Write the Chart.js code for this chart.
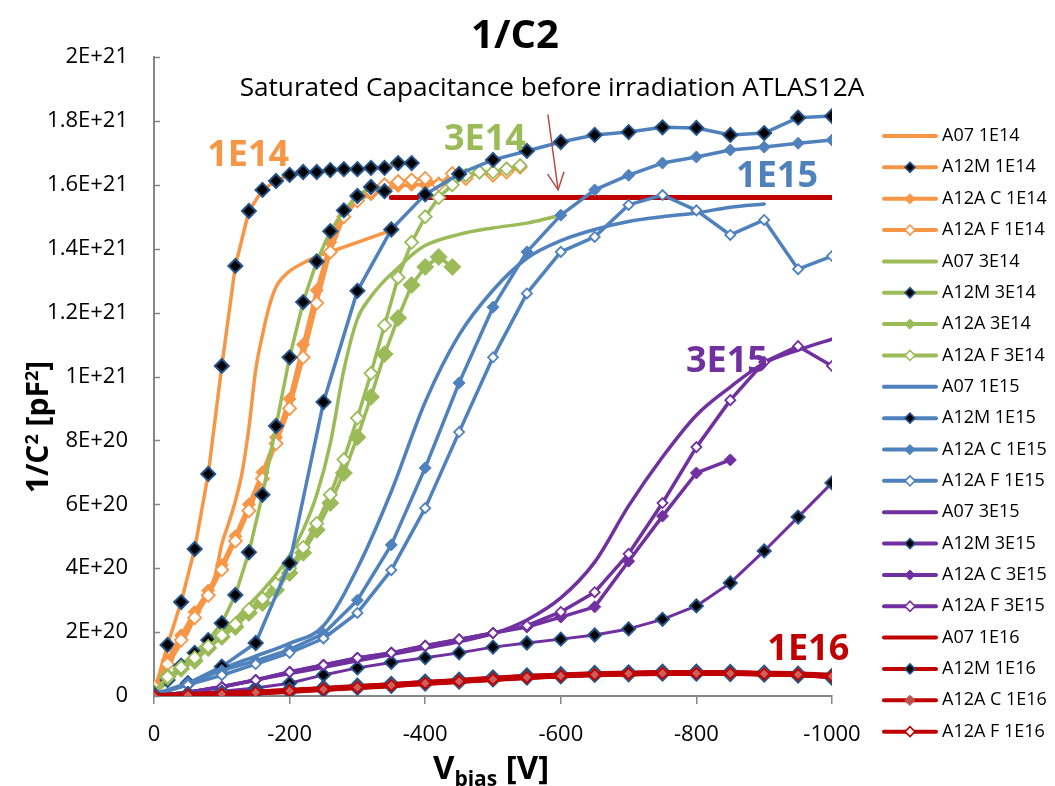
<!DOCTYPE html>
<html><head><meta charset="utf-8">
<script src="https://cdn.jsdelivr.net/npm/chart.js@4.4.1/dist/chart.umd.min.js"></script>
<style>html,body{margin:0;padding:0;background:#fff;}canvas{display:block;}</style>
</head><body>
<canvas id="c" width="1055" height="786"></canvas>
<script>
// ---- values: voltage [V], 1/C^2 in units of 1E20 pF^-2 ----
const vSat = [-350, -1000];
const ySat = [15.6, 15.6];

const vA07_1E14 = [0,-10,-20,-30,-40,-50,-60,-70,-80,-90,-100,-110,-120,-130,-140,-150,-160,-170,-180,-190,-200,-220,-240,-260,-280,-300,-320,-340,-350];
const yA07_1E14 = [0.1,0.45,0.85,1.3,1.65,2.0,2.45,2.85,3.25,3.75,4.75,5.4,6.1,7.0,8.4,10.2,11.3,12.2,12.8,13.1,13.3,13.55,13.75,13.9,14.05,14.2,14.35,14.5,14.55];
const vA12M_1E14 = [0,-20,-40,-60,-80,-100,-120,-140,-160,-180,-200,-220,-240,-260,-280,-300,-320,-340,-360,-380];
const yA12M_1E14 = [0.1,1.6,2.94,4.6,6.95,10.33,13.46,15.18,15.84,16.12,16.31,16.4,16.4,16.46,16.49,16.49,16.53,16.53,16.68,16.68];
const vA12AC_1E14 = [0,-20,-40,-60,-80,-100,-120,-140,-160,-180,-200,-220,-240,-260,-280,-300,-320,-340,-360,-380,-400,-420];
const yA12AC_1E14 = [0.3,1.13,1.9,2.63,3.3,4.1,5.0,6.0,7.0,8.1,9.3,11.0,12.7,14.2,15.2,15.5,15.7,15.85,15.96,16.0,16.0,16.05];
const vA12AF_1E14 = [0,-20,-40,-60,-80,-100,-120,-140,-160,-180,-200,-220,-240,-260,-280,-300,-320,-340,-360,-380,-400,-420,-440,-460,-480,-500,-520,-540];
const yA12AF_1E14 = [0.3,1.0,1.75,2.45,3.15,3.95,4.85,5.8,6.8,7.9,9.0,10.6,12.3,13.9,15.0,15.5,15.8,16.0,16.1,16.15,16.2,16.0,16.35,16.2,16.4,16.3,16.4,16.55];

const vA07_3E14 = [0,-20,-40,-60,-80,-100,-120,-140,-160,-180,-200,-220,-240,-260,-280,-300,-320,-340,-360,-380,-400,-450,-500,-550,-590];
const yA07_3E14 = [0.05,0.45,0.85,1.2,1.6,2.0,2.4,2.85,3.3,3.8,4.4,5.2,6.3,7.9,10.2,11.8,12.5,13.0,13.4,13.8,14.1,14.45,14.65,14.8,15.0];
const vA12M_3E14 = [0,-20,-40,-60,-80,-100,-120,-140,-160,-180,-200,-220,-240,-260,-280,-300,-320,-340];
const yA12M_3E14 = [0.05,0.5,0.95,1.35,1.75,2.28,3.16,4.5,6.3,8.45,10.6,12.33,13.6,14.55,15.2,15.65,15.93,15.8];
const vA12A_3E14 = [0,-20,-40,-60,-80,-100,-120,-140,-160,-180,-200,-220,-240,-260,-280,-300,-320,-340,-360,-380,-400,-420,-440];
const yA12A_3E14 = [0.1,0.6,0.85,1.1,1.5,1.85,2.16,2.6,2.91,3.32,3.85,4.48,5.2,6.04,6.98,8.1,9.36,10.7,11.83,12.86,13.43,13.74,13.43];
const vA12AF_3E14 = [0,-20,-40,-60,-80,-100,-120,-140,-160,-180,-200,-220,-240,-260,-280,-300,-320,-340,-360,-380,-400,-420,-440,-460,-480,-500,-520,-540];
const yA12AF_3E14 = [0.1,0.6,0.9,1.2,1.55,1.9,2.25,2.7,3.05,3.5,4.0,4.65,5.4,6.3,7.4,8.7,10.1,11.6,13.1,14.2,15.0,15.6,16.0,16.3,16.4,16.4,16.5,16.6];

const vA07_1E15 = [0,-50,-100,-150,-200,-250,-300,-350,-400,-450,-500,-550,-600,-650,-700,-750,-800,-850,-900];
const yA07_1E15 = [0,0.4,0.85,1.25,1.65,2.2,4.0,6.4,9.2,11.3,12.7,13.7,14.25,14.6,14.85,15.0,15.12,15.3,15.4];
const v50 = [0,-50,-100,-150,-200,-250,-300,-350,-400,-450,-500,-550,-600,-650,-700,-750,-800,-850,-900,-950,-1000];
const yA12M_1E15 = [0.05,0.4,0.92,1.66,4.16,9.2,12.68,14.6,15.7,16.34,16.78,17.06,17.34,17.56,17.65,17.8,17.78,17.56,17.62,18.1,18.15];
const yA12AC_1E15 = [0.02,0.4,0.8,1.1,1.45,1.95,3.0,4.73,7.14,9.8,12.17,13.9,15.05,15.84,16.3,16.68,16.87,17.09,17.18,17.3,17.4];
const yA12AF_1E15 = [0.02,0.35,0.65,1.0,1.35,1.8,2.6,3.94,5.88,8.26,10.6,12.6,13.9,14.37,15.37,15.68,15.2,14.43,14.9,13.36,13.77];

const yA07_3E15 = [0,0.12,0.3,0.5,0.7,0.9,1.1,1.3,1.5,1.7,1.95,2.38,3.07,4.19,5.95,7.48,8.79,9.67,10.42,10.83,11.17];
const yA12M_3E15 = [0,0.06,0.15,0.25,0.4,0.66,0.88,1.05,1.2,1.35,1.53,1.66,1.78,1.91,2.1,2.4,2.82,3.54,4.54,5.6,6.67];
const vA12AC_3E15 = [0,-50,-100,-150,-200,-250,-300,-350,-400,-450,-500,-550,-600,-650,-700,-750,-800,-850];
const yA12AC_3E15 = [0,0.12,0.28,0.5,0.75,0.97,1.19,1.35,1.57,1.77,1.97,2.16,2.47,2.79,4.22,5.63,6.98,7.39];
const yA12AF_3E15 = [0,0.12,0.28,0.5,0.75,0.97,1.19,1.35,1.57,1.77,1.97,2.2,2.63,3.25,4.45,6.04,7.79,9.26,10.45,10.95,10.33];

const yA07_1E16 = [0,0.03,0.07,0.11,0.16,0.22,0.28,0.34,0.41,0.47,0.54,0.6,0.64,0.68,0.7,0.72,0.72,0.72,0.7,0.68,0.63];
const yA12M_1E16 = [0,0.03,0.07,0.12,0.17,0.23,0.29,0.35,0.42,0.48,0.55,0.61,0.65,0.69,0.71,0.73,0.73,0.72,0.7,0.67,0.6];
const yA12AC_1E16 = [0,0.03,0.07,0.11,0.16,0.22,0.28,0.34,0.41,0.47,0.53,0.59,0.64,0.68,0.7,0.72,0.72,0.71,0.7,0.68,0.62];
const yA12AF_1E16 = [0,0.03,0.06,0.11,0.16,0.21,0.27,0.33,0.4,0.46,0.52,0.58,0.63,0.67,0.7,0.71,0.71,0.71,0.69,0.67,0.62];

const xTickLabels = ['0','-200','-400','-600','-800','-1000'];
const yTickLabels = ['0','2E+20','4E+20','6E+20','8E+20','1E+21','1.2E+21','1.4E+21','1.6E+21','1.8E+21','2E+21'];

const TITLE = '1/C2';
const SUBTITLE = 'Saturated Capacitance before irradiation ATLAS12A';
const noteText = ['1E14','3E14','1E15','3E15','1E16'];
const noteV = [-139,-488,-919,-845,-965];
const noteY = [16.9,17.4,16.25,10.45,1.44];
const arrowV = [-581,-596];
const arrowY = [18.2,15.84];

// ---- styling ----
const FONT = "'Open Sans', 'DejaVu Sans', sans-serif";
const ORANGE='#F79646', GREEN='#9BBB59', BLUE='#4F81BD', PURPLE='#7030A0', RED='#C00000';
const noteColors = [ORANGE, GREEN, BLUE, PURPLE, RED];
Chart.defaults.font.family = FONT;

function pts(v, y){ return v.map((x,i)=>({x:x, y:y[i]})); }
function mk(label, v, y, color, kind, o){
  o = o || {};
  const ds = {label, data: pts(v,y), showLine:true, borderColor:color, backgroundColor:color,
    borderWidth: o.bw || 3.5, borderCapStyle:'round', borderJoinStyle:'round',
    pointStyle:'rectRot', pointRadius:0, pointHoverRadius:0, legendHide: !!o.hide};
  if (kind === 'line') { ds.cubicInterpolationMode = 'monotone'; }
  else {
    const r = o.r || 6;
    ds.pointRadius = r; ds.pointHoverRadius = r;
    if (kind === 'M') { ds.pointBackgroundColor='#000'; ds.pointBorderColor='#24548A'; ds.pointBorderWidth=2; }
    else if (kind === 'C') { const pc = o.pc || color; ds.pointBackgroundColor=pc; ds.pointBorderColor=pc; ds.pointBorderWidth=1; }
    else { ds.pointBackgroundColor = o.pf || '#fff'; ds.pointBorderColor=color; ds.pointBorderWidth=1.8; ds.legendFill = '#fff'; }
  }
  return ds;
}

const datasets = [
  mk('Saturated', vSat, ySat, RED, 'line', {bw:5, hide:true}),
  mk('A07 1E14', vA07_1E14, yA07_1E14, ORANGE, 'line'),
  mk('A12M 1E14', vA12M_1E14, yA12M_1E14, ORANGE, 'M', {r:7}),
  mk('A12A C 1E14', vA12AC_1E14, yA12AC_1E14, ORANGE, 'C', {r:6.5}),
  mk('A12A F 1E14', vA12AF_1E14, yA12AF_1E14, ORANGE, 'F', {r:6.5}),
  mk('A07 3E14', vA07_3E14, yA07_3E14, GREEN, 'line'),
  mk('A12M 3E14', vA12M_3E14, yA12M_3E14, GREEN, 'M', {r:7}),
  mk('A12A 3E14', vA12A_3E14, yA12A_3E14, GREEN, 'C', {r:8.5}),
  mk('A12A F 3E14', vA12AF_3E14, yA12AF_3E14, GREEN, 'F', {r:6.5}),
  mk('A07 1E15', vA07_1E15, yA07_1E15, BLUE, 'line'),
  mk('A12M 1E15', v50, yA12M_1E15, BLUE, 'M', {r:7}),
  mk('A12A C 1E15', v50, yA12AC_1E15, BLUE, 'C', {r:6}),
  mk('A12A F 1E15', v50, yA12AF_1E15, BLUE, 'F', {r:5}),
  mk('A07 3E15', v50, yA07_3E15, PURPLE, 'line'),
  mk('A12M 3E15', v50, yA12M_3E15, PURPLE, 'M', {r:6.5, bw:3}),
  mk('A12A C 3E15', vA12AC_3E15, yA12AC_3E15, PURPLE, 'C', {r:6}),
  mk('A12A F 3E15', v50, yA12AF_3E15, PURPLE, 'F', {r:5}),
  mk('A07 1E16', v50, yA07_1E16, RED, 'line', {bw:6}),
  mk('A12M 1E16', v50, yA12M_1E16, RED, 'M', {r:8, bw:5}),
  mk('A12A C 1E16', v50, yA12AC_1E16, RED, 'C', {r:6.5, pc:'#C0504D', bw:5}),
  mk('A12A F 1E16', v50, yA12AF_1E16, RED, 'F', {r:5.5, bw:5, pf:'#CF5F5B'})
];
datasets.forEach((d,i)=>{ d.order = -i; });

function fitFont(ctx, text, weight, size, target){
  ctx.font = `${weight} ${size}px ${FONT}`;
  const w = ctx.measureText(text).width;
  const s = size * target / w;
  ctx.font = `${weight} ${s}px ${FONT}`;
  return s;
}

const overlay = {
  id:'overlay',
  afterDraw(chart){
    const ctx = chart.ctx, xs = chart.scales.x, ys = chart.scales.y;
    ctx.save();
    // inward y ticks
    ctx.strokeStyle = '#868686'; ctx.lineWidth = 1.5;
    ys.ticks.forEach(t=>{ const y = Math.round(ys.getPixelForValue(t.value))+0.5; ctx.beginPath(); ctx.moveTo(xs.left, y); ctx.lineTo(xs.left+6, y); ctx.stroke(); });
    // title & subtitle
    ctx.fillStyle = '#000'; ctx.textAlign = 'center'; ctx.textBaseline = 'middle';
    ctx.font = `bold 40px ${FONT}`; ctx.fillText(TITLE, 515, 37);
    fitFont(ctx, SUBTITLE, 'normal', 20, 625); ctx.fillText(SUBTITLE, 552, 89);
    // arrow
    const ax0 = xs.getPixelForValue(arrowV[0]), ay0 = ys.getPixelForValue(arrowY[0]);
    const ax1 = xs.getPixelForValue(arrowV[1]), ay1 = ys.getPixelForValue(arrowY[1]);
    ctx.strokeStyle = '#B94A48'; ctx.lineWidth = 1.5;
    ctx.beginPath(); ctx.moveTo(ax0, ay0); ctx.lineTo(ax1, ay1); ctx.stroke();
    const ang = Math.atan2(ay1-ay0, ax1-ax0);
    ctx.beginPath();
    ctx.moveTo(ax1 - 19*Math.cos(ang-0.45), ay1 - 19*Math.sin(ang-0.45));
    ctx.lineTo(ax1, ay1);
    ctx.lineTo(ax1 - 19*Math.cos(ang+0.45), ay1 - 19*Math.sin(ang+0.45));
    ctx.stroke();
    // series notes
    ctx.font = `bold 36px ${FONT}`;
    noteText.forEach((t,i)=>{ ctx.fillStyle = noteColors[i]; ctx.fillText(t, xs.getPixelForValue(noteV[i]), ys.getPixelForValue(noteY[i])); });
    // axis titles
    ctx.fillStyle = '#000';
    const segY = [['1/C',30,0],['2',18,-10],[' [pF',30,0],['2',18,-10],[']',30,0]];
    ctx.save(); ctx.translate(37, 427); ctx.rotate(-Math.PI/2);
    let tot = 0; segY.forEach(s=>{ ctx.font = `bold ${s[1]}px ${FONT}`; tot += ctx.measureText(s[0]).width; });
    let x = -tot/2; ctx.textAlign = 'left'; ctx.textBaseline = 'alphabetic';
    segY.forEach(s=>{ ctx.font = `bold ${s[1]}px ${FONT}`; ctx.fillText(s[0], x, 11 + s[2]); x += ctx.measureText(s[0]).width; });
    ctx.restore();
    const segX = [['V',33,0],['bias',21,7],[' [V]',33,0]];
    tot = 0; segX.forEach(s=>{ ctx.font = `bold ${s[1]}px ${FONT}`; tot += ctx.measureText(s[0]).width; });
    x = 491 - tot/2; ctx.textAlign = 'left'; ctx.textBaseline = 'alphabetic';
    segX.forEach(s=>{ ctx.font = `bold ${s[1]}px ${FONT}`; ctx.fillText(s[0], x, 779 + s[2]); x += ctx.measureText(s[0]).width; });
    // legend
    let row = 0;
    chart.data.datasets.forEach(ds=>{
      if (ds.legendHide) return;
      const y = 136 + row*31.35; row++;
      ctx.strokeStyle = ds.borderColor; ctx.lineWidth = 4; ctx.lineCap = 'round';
      ctx.beginPath(); ctx.moveTo(884, y); ctx.lineTo(936, y); ctx.stroke();
      if (ds.pointRadius > 0) {
        ctx.fillStyle = ds.legendFill || ds.pointBackgroundColor; ctx.strokeStyle = ds.pointBorderColor; ctx.lineWidth = Math.min(ds.pointBorderWidth, 1.6);
        Chart.helpers.drawPoint(ctx, {pointStyle:'rectRot', radius:5, borderWidth:ctx.lineWidth, rotation:0}, 910, y);
      }
      ctx.fillStyle = '#000'; ctx.font = `18px ${FONT}`; ctx.textAlign = 'left'; ctx.textBaseline = 'middle';
      ctx.fillText(ds.label, 942, y);
    });
    ctx.restore();
  }
};

new Chart(document.getElementById('c'), {
  type:'scatter',
  data:{datasets},
  options:{
    responsive:false, animation:false, devicePixelRatio:1, events:[],
    layout:{padding:{left:0, right:223, top:57, bottom:0}},
    plugins:{legend:{display:false}, tooltip:{enabled:false}, title:{display:false}},
    scales:{
      x:{type:'linear', min:-1000, max:0, reverse:true,
        ticks:{stepSize:200, color:'#000', font:{size:22}, padding:18, maxRotation:0,
          callback:(v)=>{ const i = Math.round(-v/200); return Math.abs(v + i*200) < 1e-6 ? xTickLabels[i] : ''; }},
        grid:{drawOnChartArea:false, drawTicks:true, tickLength:8, color:'#868686', lineWidth:1.5},
        border:{color:'#868686', width:2},
        afterFit(s){ s.height = 90; s.paddingLeft = 0; s.paddingRight = 0; }},
      y:{type:'linear', min:0, max:20,
        ticks:{stepSize:2, color:'#000', font:{size:22}, padding:26,
          callback:(v)=>{ const i = Math.round(v/2); return Math.abs(v - i*2) < 1e-6 ? yTickLabels[i] : ''; }},
        grid:{drawOnChartArea:false, drawTicks:false},
        border:{color:'#868686', width:2},
        afterFit(s){ s.width = 154; s.paddingTop = 0; s.paddingBottom = 0; }}
    }
  },
  plugins:[overlay]
});
</script>
</body></html>
